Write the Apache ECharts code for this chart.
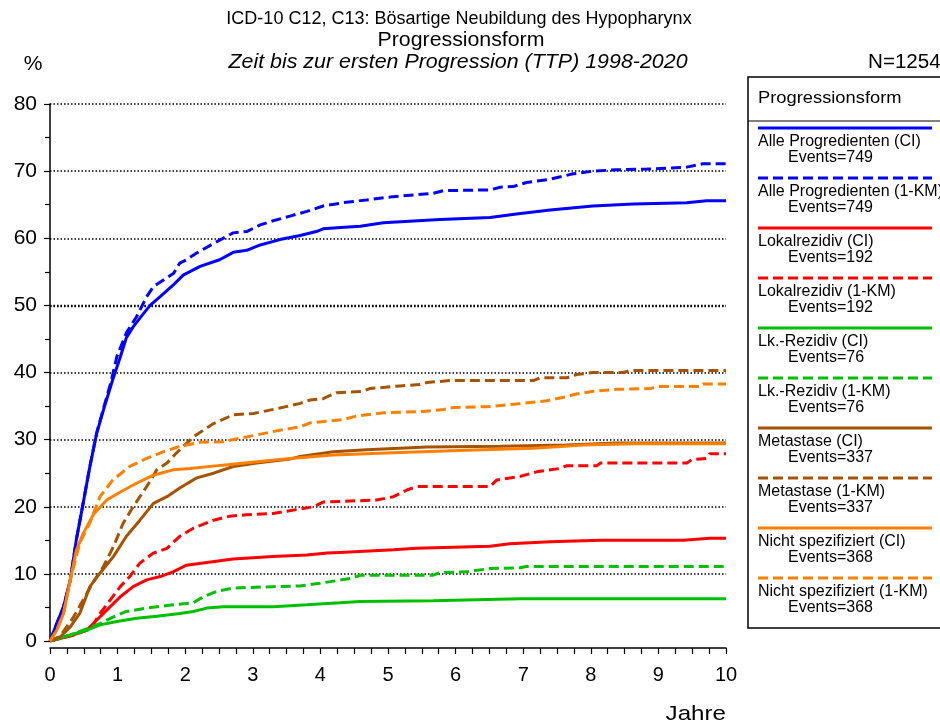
<!DOCTYPE html>
<html>
<head>
<meta charset="utf-8">
<script src="https://cdn.jsdelivr.net/npm/echarts@6/dist/echarts.min.js"></script>
<style>html,body{margin:0;padding:0;background:#fff}#c{width:940px;height:728px}</style>
</head>
<body>
<div id="c"></div>
<script>
var FONT = '"Liberation Sans", Arial, sans-serif';

var titleLines = ['ICD-10 C12, C13: Bösartige Neubildung des Hypopharynx', 'Progressionsform', 'Zeit bis zur ersten Progression (TTP) 1998-2020'];
var totalN = 'N=1254';
var legendTitle = 'Progressionsform';
var xTicks = [0, 1, 2, 3, 4, 5, 6, 7, 8, 9, 10];
var yTicks = [0, 10, 20, 30, 40, 50, 60, 70, 80];
var heavyGridValue = 50;

var seriesNames = ['Alle Progredienten (CI)', 'Alle Progredienten (1-KM)', 'Lokalrezidiv (CI)', 'Lokalrezidiv (1-KM)', 'Lk.-Rezidiv (CI)', 'Lk.-Rezidiv (1-KM)', 'Metastase (CI)', 'Metastase (1-KM)', 'Nicht spezifiziert (CI)', 'Nicht spezifiziert (1-KM)'];
var seriesEvents = [749, 749, 192, 192, 76, 76, 337, 337, 368, 368];
var seriesColors = ['#0000FF', '#0000FF', '#FF0000', '#FF0000', '#00C000', '#00C000', '#A65300', '#A65300', '#FF8000', '#FF8000'];
var seriesDashed = [false, true, false, true, false, true, false, true, false, true];

var alleCI = [[0,0],[0.1,2.6],[0.2,5.1],[0.3,9.1],[0.39,15.1],[0.49,20.5],[0.59,26],[0.69,30.9],[0.79,34.4],[0.93,39],[1.04,42.3],[1.13,45.2],[1.23,46.8],[1.33,48.1],[1.48,50],[1.63,51.3],[1.82,53],[1.97,54.5],[2.22,55.8],[2.51,56.8],[2.71,57.9],[2.91,58.2],[3.11,59],[3.4,59.8],[3.7,60.4],[3.94,61],[4.04,61.4],[4.3,61.6],[4.59,61.8],[4.93,62.3],[5.77,62.8],[6.51,63.1],[6.9,63.6],[7.4,64.2],[8.03,64.8],[8.63,65.1],[9.42,65.3],[9.71,65.6],[10,65.6]];
var alleKM = [[0,0],[0.1,2.6],[0.2,5.1],[0.3,9.1],[0.39,15.1],[0.49,20.5],[0.59,26],[0.69,31],[0.79,34.6],[0.9,38.5],[0.99,42.4],[1.13,45.9],[1.28,48.3],[1.43,51.3],[1.53,52.8],[1.83,54.8],[1.92,56.3],[2.02,56.8],[2.17,57.8],[2.47,59.5],[2.71,60.8],[2.91,61],[3.11,62],[3.3,62.6],[3.55,63.3],[3.8,64],[4.04,64.8],[4.34,65.3],[4.68,65.7],[5.08,66.2],[5.67,66.7],[5.82,67.1],[6.51,67.2],[6.66,67.6],[6.85,67.7],[7.05,68.3],[7.4,68.8],[7.74,69.6],[8.03,70],[8.38,70.2],[8.83,70.3],[9.42,70.6],[9.66,71.1],[10,71.1]];
var lokalCI = [[0,0],[0.35,0.9],[0.54,1.6],[0.69,3.1],[0.84,4.6],[1.04,6.6],[1.23,8.1],[1.43,9.1],[1.63,9.6],[1.82,10.3],[2.02,11.3],[2.32,11.7],[2.71,12.2],[3.3,12.6],[3.8,12.8],[4.1,13.1],[4.29,13.2],[5.08,13.6],[5.42,13.8],[6.51,14.1],[6.8,14.5],[7.4,14.8],[8.14,15],[9.37,15],[9.76,15.3],[10,15.3]];
var lokalKM = [[0,0],[0.35,0.9],[0.54,1.6],[0.6,1.8],[0.74,4.1],[0.89,6.1],[1.04,8.1],[1.18,9.6],[1.33,11.6],[1.53,13.1],[1.73,13.8],[1.92,15.6],[2.12,16.8],[2.42,18],[2.66,18.6],[2.91,18.8],[3.3,19],[3.6,19.5],[3.9,20],[4.04,20.7],[4.83,21],[5.08,21.5],[5.28,22.5],[5.42,23],[6.51,23],[6.61,24],[6.95,24.5],[7.2,25.2],[7.54,25.7],[7.64,26.1],[8.09,26.1],[8.14,26.5],[9.42,26.5],[9.49,27],[9.71,27.2],[9.76,27.9],[10,27.9]];
var lkCI = [[0,0],[0.3,0.9],[0.54,1.6],[0.74,2.4],[0.99,2.9],[1.28,3.4],[1.58,3.7],[1.92,4.1],[2.12,4.4],[2.32,4.9],[2.56,5.1],[3.3,5.1],[3.8,5.4],[4.29,5.7],[4.59,5.9],[5.67,6],[6.95,6.3],[10,6.3]];
var lkKM = [[0,0],[0.3,0.9],[0.54,1.8],[0.74,2.6],[0.94,3.6],[1.13,4.4],[1.43,4.9],[1.82,5.4],[2.12,5.7],[2.27,6.6],[2.47,7.4],[2.71,7.9],[3.3,8.1],[3.7,8.2],[3.99,8.6],[4.44,9.3],[4.59,9.8],[5.67,9.8],[5.77,10.2],[6.16,10.3],[6.51,10.8],[6.95,10.9],[7.05,11.1],[10,11.1]];
var metaCI = [[0,0],[0.15,0.6],[0.3,2.1],[0.44,4.1],[0.59,8.1],[0.74,10.1],[0.94,12.6],[1.13,15.6],[1.33,18],[1.53,20.5],[1.73,21.5],[1.92,22.8],[2.17,24.3],[2.42,25],[2.71,26],[3.06,26.5],[3.55,27.1],[3.7,27.5],[4.19,28.2],[4.68,28.5],[5.57,28.9],[6.66,29],[7.64,29.2],[8.38,29.5],[10,29.5]];
var metaKM = [[0,0],[0.15,0.7],[0.35,3.6],[0.49,6.1],[0.64,8.8],[0.79,11.1],[0.94,14.1],[1.08,17.5],[1.23,20],[1.43,23],[1.58,25.5],[1.73,26.5],[1.87,28],[2.12,30.4],[2.42,32.4],[2.71,33.7],[3.01,33.9],[3.4,34.7],[3.7,35.4],[3.85,35.9],[4.04,36.1],[4.24,37],[4.63,37.2],[4.73,37.6],[5.18,38],[5.47,38.2],[5.57,38.5],[5.92,38.8],[7.15,38.8],[7.25,39.2],[7.64,39.2],[7.79,39.7],[8.04,40],[8.48,40],[8.58,40.3],[10,40.3]];
var nichtCI = [[0,0],[0.1,1.6],[0.2,4.1],[0.3,9.1],[0.39,13.5],[0.49,16],[0.64,18.8],[0.84,21],[1.04,22.2],[1.28,23.5],[1.53,24.7],[1.82,25.5],[2.07,25.7],[2.56,26.2],[3.06,26.7],[3.55,27.2],[4.19,27.7],[5.18,28.1],[6.16,28.4],[7.15,28.7],[7.89,29.2],[8.63,29.4],[10,29.4]];
var nichtKM = [[0,0],[0.1,1.6],[0.2,4.1],[0.3,9.1],[0.44,14.6],[0.59,17.6],[0.74,21.5],[0.93,24],[1.18,26],[1.43,27.2],[1.68,28.2],[1.92,29],[2.22,29.6],[2.56,29.7],[2.91,30.4],[3.4,31.4],[3.7,31.9],[3.85,32.5],[4.34,33],[4.53,33.5],[4.93,34],[5.52,34.2],[5.82,34.5],[5.97,34.8],[6.46,34.9],[6.9,35.3],[7.35,35.8],[7.6,36.3],[7.79,36.8],[8.04,37.2],[8.38,37.5],[8.88,37.6],[8.97,37.9],[9.62,37.9],[9.66,38.3],[10,38.3]];

var seriesData = [alleCI, alleKM, lokalCI, lokalKM, lkCI, lkKM, metaCI, metaKM, nichtCI, nichtKM];

var chart = echarts.init(document.getElementById('c'), null, {renderer: 'canvas'});

var series = seriesNames.map(function (n, i) {
  var s = {
    name: n,
    type: 'line',
    data: seriesData[i],
    showSymbol: false,
    symbol: 'none',
    smooth: false,
    animation: false,
    lineStyle: {color: seriesColors[i], width: 3, type: seriesDashed[i] ? [10, 5] : 'solid'},
    itemStyle: {color: seriesColors[i]},
    z: 3
  };
  if (i === 0) {
    s.markLine = {
      silent: true, symbol: 'none', label: {show: false}, animation: false, z: 1,
      lineStyle: {color: '#000', width: 2.4, type: [1.5, 2]},
      data: [{yAxis: heavyGridValue}]
    };
  }
  return s;
});

var graphics = [];
graphics.push({type: 'text', x: 459, y: 19, style: {text: titleLines[0], font: '18px ' + FONT, fill: '#000', textAlign: 'center', textVerticalAlign: 'middle'}});
graphics.push({type: 'text', x: 461, y: 40, scaleX: 1.065, style: {text: titleLines[1], font: '20px ' + FONT, fill: '#000', textAlign: 'center', textVerticalAlign: 'middle'}});
graphics.push({type: 'text', x: 458, y: 62, scaleX: 1.07, style: {text: titleLines[2], font: 'italic 20px ' + FONT, fill: '#000', textAlign: 'center', textVerticalAlign: 'middle'}});
graphics.push({type: 'text', x: 868, y: 62, scaleX: 1.03, style: {text: totalN, font: '20px ' + FONT, fill: '#000', textAlign: 'left', textVerticalAlign: 'middle'}});
graphics.push({type: 'text', x: 33, y: 64, style: {text: '%', font: '21px ' + FONT, fill: '#000', textAlign: 'center', textVerticalAlign: 'middle'}});
graphics.push({type: 'text', x: 726, y: 714, scaleX: 1.15, style: {text: 'Jahre', font: '21px ' + FONT, fill: '#000', textAlign: 'right', textVerticalAlign: 'middle'}});

// legend box
graphics.push({type: 'rect', shape: {x: 748, y: 77, width: 220, height: 551}, style: {fill: '#fff', stroke: '#000', lineWidth: 1.5}, z: 1});
graphics.push({type: 'text', x: 758, y: 98, scaleX: 1.11, style: {text: legendTitle, font: '16.5px ' + FONT, fill: '#000', textAlign: 'left', textVerticalAlign: 'middle'}, z: 2});
graphics.push({type: 'line', shape: {x1: 748, y1: 121, x2: 940, y2: 121}, style: {stroke: '#000', lineWidth: 1.2}, z: 2});
seriesNames.forEach(function (n, i) {
  var y0 = 128 + 50 * i;
  graphics.push({type: 'line', shape: {x1: 758, y1: y0, x2: 932, y2: y0}, style: {stroke: seriesColors[i], lineWidth: 3, lineDash: seriesDashed[i] ? [10, 5] : null}, z: 2});
  graphics.push({type: 'text', x: 758, y: y0 + 14, style: {text: n, font: '16px ' + FONT, fill: '#000', textAlign: 'left', textVerticalAlign: 'middle'}, z: 2});
  graphics.push({type: 'text', x: 788, y: y0 + 30, style: {text: 'Events=' + seriesEvents[i], font: '16px ' + FONT, fill: '#000', textAlign: 'left', textVerticalAlign: 'middle'}, z: 2});
});

var option = {
  animation: false,
  backgroundColor: '#fff',
  grid: {left: 50, right: 214, top: 104, bottom: 87, containLabel: false},
  xAxis: {
    type: 'value', min: xTicks[0], max: xTicks[xTicks.length - 1], interval: 1,
    offset: 7,
    axisLine: {show: true, onZero: false, lineStyle: {color: '#000', width: 1.5}},
    axisTick: {show: true, length: 6, lineStyle: {color: '#000', width: 1.2}},
    minorTick: {show: true, splitNumber: 4, length: 6, lineStyle: {color: '#000', width: 1.2}},
    axisLabel: {fontSize: 20, color: '#000', fontFamily: FONT, margin: 17,
      formatter: function (v) { return xTicks.indexOf(v) >= 0 ? String(v) : ''; }},
    splitLine: {show: false}
  },
  yAxis: {
    type: 'value', min: yTicks[0], max: yTicks[yTicks.length - 1], interval: 10,
    offset: 4,
    axisLine: {show: true, lineStyle: {color: '#000', width: 1.5}},
    axisTick: {show: true, length: 6, lineStyle: {color: '#000', width: 1.2}},
    minorTick: {show: true, splitNumber: 2, length: 5, lineStyle: {color: '#000', width: 1.2}},
    axisLabel: {fontSize: 21, color: '#000', fontFamily: FONT, margin: 9,
      formatter: function (v) { return yTicks.indexOf(v) >= 0 ? String(v) : ''; }},
    splitLine: {show: true, showMinLine: false, lineStyle: {color: '#000', width: 1.5, type: [1.5, 2]}}
  },
  graphic: graphics,
  series: series
};
chart.setOption(option);
</script>
</body>
</html>
